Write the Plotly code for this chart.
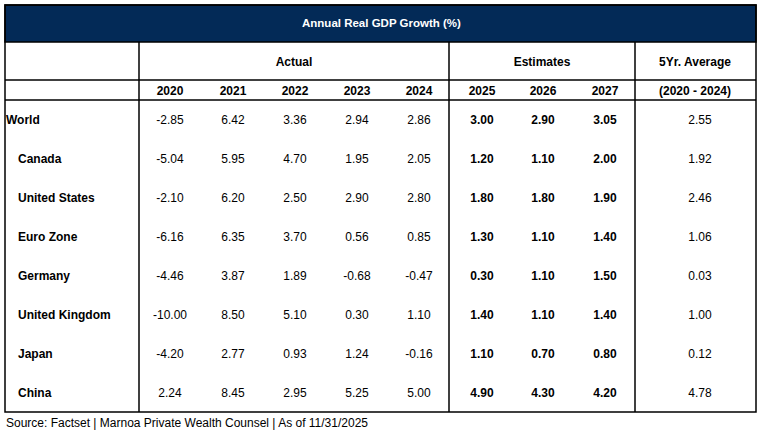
import plotly.graph_objects as go

title = "Annual Real GDP Growth (%)"
source = "Source: Factset | Marnoa Private Wealth Counsel | As of 11/31/2025"
countries = ["World", "Canada", "United States", "Euro Zone", "Germany",
             "United Kingdom", "Japan", "China"]
years_actual = ["2020", "2021", "2022", "2023", "2024"]
years_est = ["2025", "2026", "2027"]
group_labels = ["Actual", "Estimates", "5Yr. Average"]
avg_label = "(2020 - 2024)"

actual = [
    [-2.85, 6.42, 3.36, 2.94, 2.86],
    [-5.04, 5.95, 4.70, 1.95, 2.05],
    [-2.10, 6.20, 2.50, 2.90, 2.80],
    [-6.16, 6.35, 3.70, 0.56, 0.85],
    [-4.46, 3.87, 1.89, -0.68, -0.47],
    [-10.00, 8.50, 5.10, 0.30, 1.10],
    [-4.20, 2.77, 0.93, 1.24, -0.16],
    [2.24, 8.45, 2.95, 5.25, 5.00],
]
estimates = [
    [3.00, 2.90, 3.05],
    [1.20, 1.10, 2.00],
    [1.80, 1.80, 1.90],
    [1.30, 1.10, 1.40],
    [0.30, 1.10, 1.50],
    [1.40, 1.10, 1.40],
    [1.10, 0.70, 0.80],
    [4.90, 4.30, 4.20],
]
five_yr_avg = [2.55, 1.92, 2.46, 1.06, 0.03, 1.00, 0.12, 4.78]

# ---- layout geometry (pixel space) ----
W, H = 762, 432
LEFT, RIGHT = 5, 756
TOP, TITLE_BOT, H1_BOT, H2_BOT, BOTTOM = 5, 42, 80, 100, 412
VLINES = [139, 449, 635]
act_x = [170, 233, 295, 357, 419]
est_x = [482, 543, 605]
avg_x = 700
row_y0, row_step = 120.5, 39.1
row_y = [row_y0 + i * row_step for i in range(len(countries))]
NAVY = "#032A57"
FONT = "Liberation Sans, Arial, sans-serif"
FS = 12

fig = go.Figure()

def text_trace(xs, ys, texts, bold=False, size=FS, pos="middle center", color="#000"):
    fig.add_trace(go.Scatter(
        x=xs, y=ys, text=texts, mode="text", textposition=pos,
        textfont=dict(family=FONT, size=size, color=color,
                      weight="bold" if bold else "normal"),
        hoverinfo="skip", showlegend=False, cliponaxis=False))

# data values
for j, x in enumerate(act_x):
    text_trace([x] * len(countries), row_y, [f"{r[j]:.2f}" for r in actual])
for j, x in enumerate(est_x):
    text_trace([x] * len(countries), row_y, [f"{r[j]:.2f}" for r in estimates], bold=True)
text_trace([avg_x] * len(countries), row_y, [f"{v:.2f}" for v in five_yr_avg])

# country names
name_x = [6 if i == 0 else 18 for i in range(len(countries))]
text_trace(name_x, row_y, countries, bold=True, pos="middle right")

# header rows
h1_y, h2_y = 62.5, 92
text_trace([294, 542, 695], [h1_y] * 3, group_labels, bold=True)
text_trace(act_x + est_x + [695], [h2_y] * 9, years_actual + years_est + [avg_label], bold=True)

shapes = []
# title band
shapes.append(dict(type="rect", xref="x", yref="y", x0=LEFT, x1=RIGHT, y0=TOP, y1=TITLE_BOT,
                   fillcolor=NAVY, line=dict(color="#000", width=1.5), layer="below"))
# outer border
shapes.append(dict(type="rect", xref="x", yref="y", x0=LEFT, x1=RIGHT, y0=TOP, y1=BOTTOM,
                   line=dict(color="#000", width=1.5)))
for yv in [H1_BOT, H2_BOT]:
    shapes.append(dict(type="line", xref="x", yref="y", x0=LEFT, x1=RIGHT, y0=yv, y1=yv,
                       line=dict(color="#000", width=1.5)))
for xv in VLINES:
    shapes.append(dict(type="line", xref="x", yref="y", x0=xv, x1=xv, y0=TITLE_BOT, y1=BOTTOM,
                       line=dict(color="#000", width=1.5)))

annotations = [
    dict(x=381, y=23, xref="x", yref="y", text=f"<b>{title}</b>",
         showarrow=False, font=dict(family=FONT, size=11.5, color="#fff")),
    dict(x=4, y=423, xref="x", yref="y", text=source, showarrow=False, xanchor="left",
         font=dict(family=FONT, size=12, color="#000")),
]

fig.update_layout(
    width=W, height=H, margin=dict(l=0, r=0, t=0, b=0),
    paper_bgcolor="#fff", plot_bgcolor="#fff",
    xaxis=dict(range=[0, W], visible=False, fixedrange=True),
    yaxis=dict(range=[H, 0], visible=False, fixedrange=True),
    shapes=shapes, annotations=annotations,
)
fig.write_html("out.html", config={"displayModeBar": False},
               post_script="document.body.style.margin='0';document.body.style.overflow='hidden';")
